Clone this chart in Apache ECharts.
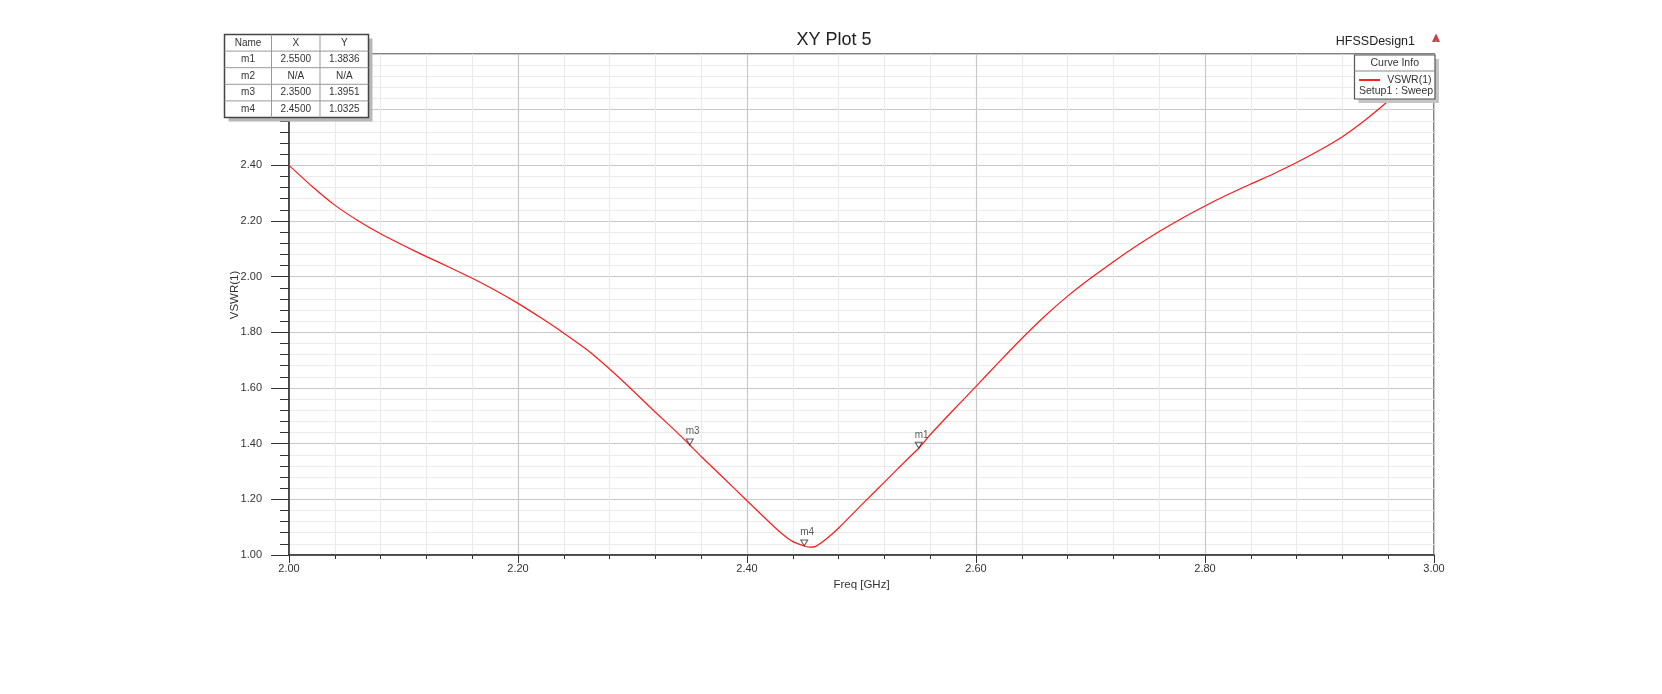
<!DOCTYPE html>
<html><head><meta charset="utf-8">
<script src="https://cdn.jsdelivr.net/npm/echarts@6/dist/echarts.min.js"></script>
<style>html,body{margin:0;padding:0;background:#fff}#c{width:1662px;height:694px}</style>
</head><body><div id="c"></div>
<script>
// ---- data ----
const freqGHz = [2.00,2.02,2.04,2.06,2.08,2.10,2.12,2.14,2.16,2.18,2.20,2.22,2.24,2.26,2.28,2.30,2.32,2.34,2.35,2.36,2.38,2.40,2.42,2.43,2.44,2.45,2.455,2.46,2.47,2.48,2.50,2.52,2.54,2.55,2.56,2.58,2.60,2.62,2.64,2.66,2.68,2.70,2.72,2.74,2.76,2.78,2.80,2.82,2.84,2.86,2.88,2.90,2.92,2.94,2.96,2.98,3.00];
const vswr = [2.400,2.325,2.257,2.202,2.154,2.112,2.072,2.034,1.994,1.951,1.904,1.852,1.797,1.738,1.668,1.592,1.513,1.436,1.3951,1.354,1.275,1.195,1.116,1.078,1.048,1.0325,1.028,1.031,1.060,1.097,1.180,1.262,1.344,1.3836,1.432,1.520,1.606,1.693,1.778,1.858,1.930,1.994,2.054,2.110,2.162,2.210,2.254,2.295,2.333,2.370,2.410,2.454,2.503,2.563,2.631,2.705,2.780];
const markerNames = ['m1','m2','m3','m4'];
const markerX = [2.55, null, 2.35, 2.45];
const markerY = [1.3836, null, 1.3951, 1.0325];
const markerXText = ['2.5500','N/A','2.3500','2.4500'];
const markerYText = ['1.3836','N/A','1.3951','1.0325'];
const tableHeader = ['Name','X','Y'];
const titleText = 'XY Plot 5';
const designText = 'HFSSDesign1';
const xName = 'Freq [GHz]';
const yName = 'VSWR(1)';
const curveName = 'VSWR(1)';
const curveSetup = 'Setup1 : Sweep';

// ---- helpers ----
const FF = '"Liberation Sans", Arial, sans-serif';
function txt(x,y,text,size,align,color,extra){
  return Object.assign({type:'text', x:x, y:y, z:101, style:{text:text, font:size+'px '+FF, fill:color||'#333', align:align||'center', verticalAlign:'middle'}}, extra||{});
}
function rect(x,y,w,h,fill,stroke,lw,z){
  return {type:'rect', z:z||100, shape:{x:x,y:y,width:w,height:h}, style:{fill:fill, stroke:stroke||null, lineWidth:lw||0}};
}
function ln(x1,y1,x2,y2,stroke,lw){
  return {type:'line', z:101, shape:{x1:x1,y1:y1,x2:x2,y2:y2}, style:{stroke:stroke, lineWidth:lw||1}};
}

const g = [];
g.push(txt(834, 40, titleText, 18, 'center', '#222'));
g.push(txt(1415, 41.5, designText, 12.5, 'right', '#222'));
g.push({type:'polygon', z:101, shape:{points:[[1432,42],[1436,33.5],[1440,42]]}, style:{fill:'#d0393b'}});
g.push({type:'polygon', z:102, shape:{points:[[1434.5,42],[1436,38.5],[1437.5,42]]}, style:{fill:'#888'}});
g.push(txt(235, 295, yName, 11.5, 'center', '#333', {rotation: Math.PI/2}));

// marker table
(function(){
  const x0 = 224.5, y0 = 34.5, cw = [47, 48.5, 48.5], rh = 16.6;
  const W = cw[0]+cw[1]+cw[2], H = rh*(markerNames.length+1);
  g.push(rect(x0+4, y0+4, W, H, '#b8b8b8', null, 0, 99));
  g.push(rect(x0, y0, W, H, '#fff', '#444', 1.5, 100));
  let cx = x0;
  const centers = [];
  for (let i=0;i<3;i++){ centers.push(cx+cw[i]/2); cx += cw[i]; if(i<2) g.push(ln(cx, y0, cx, y0+H, '#999', 1)); }
  for (let r=1;r<=markerNames.length;r++) g.push(ln(x0, y0+rh*r, x0+W, y0+rh*r, '#999', 1));
  tableHeader.forEach((t,i)=>g.push(txt(centers[i], y0+rh/2, t, 10, 'center', '#333')));
  markerNames.forEach((n,r)=>{
    const yc = y0 + rh*(r+1) + rh/2;
    g.push(txt(centers[0], yc, n, 10, 'center', '#333'));
    g.push(txt(centers[1], yc, markerXText[r], 10, 'center', '#333'));
    g.push(txt(centers[2], yc, markerYText[r], 10, 'center', '#333'));
  });
})();

// curve info legend
(function(){
  const x0 = 1354.5, y0 = 55, W = 80.5, H = 44;
  g.push(rect(x0+4, y0+4, W, H, '#c4c4c4', null, 0, 99));
  g.push(rect(x0, y0, W, H, '#fff', '#555', 1.2, 100));
  g.push(ln(x0, 71, x0+W, 71, '#888', 1));
  g.push(txt(x0+W/2, 63.3, 'Curve Info', 10.5, 'center', '#333'));
  g.push(ln(1359, 80, 1380, 80, '#ff2020', 2));
  g.push(txt(1431.5, 80, curveName, 10.5, 'right', '#333'));
  g.push(txt(1359, 91.5, curveSetup, 10.5, 'left', '#333'));
})();

const curveData = freqGHz.map((f,i)=>[f, vswr[i]]);
const markerData = [];
markerNames.forEach((n,i)=>{ if(markerX[i]!==null) markerData.push({name:n, value:[markerX[i], markerY[i]]}); });

const chart = echarts.init(document.getElementById('c'), null, {renderer:'canvas'});
chart.setOption({
  animation: false,
  backgroundColor: '#fff',
  textStyle: {fontFamily: FF},
  grid: {left: 289, top: 54, width: 1145, height: 501, show: true, borderColor: '#808080', borderWidth: 2, backgroundColor: 'transparent'},
  xAxis: {
    type: 'value', min: 2, max: 3, interval: 0.2,
    name: xName, nameLocation: 'middle', nameGap: 21,
    nameTextStyle: {fontSize: 11.5, color: '#333', fontFamily: FF},
    axisLine: {show: true, onZero: false, lineStyle: {color: '#333', width: 1.5}},
    axisTick: {show: true, inside: false, length: 8, lineStyle: {color: '#333', width: 1}},
    minorTick: {show: true, splitNumber: 5, length: 4, lineStyle: {color: '#333', width: 1}},
    axisLabel: {margin: 8, fontSize: 11, color: '#333', fontFamily: FF, formatter: v => v.toFixed(2)},
    splitLine: {show: true, lineStyle: {color: '#c8c8c8', width: 1.2}},
    minorSplitLine: {show: true, lineStyle: {color: '#ebebeb', width: 1.2}}
  },
  yAxis: {
    type: 'value', min: 1, max: 2.8, interval: 0.2,
    axisLine: {show: true, onZero: false, lineStyle: {color: '#333', width: 1.5}},
    axisTick: {show: true, inside: false, length: 18, lineStyle: {color: '#333', width: 1}},
    minorTick: {show: true, splitNumber: 5, length: 9, lineStyle: {color: '#333', width: 1}},
    axisLabel: {margin: 27, fontSize: 11, color: '#333', fontFamily: FF, formatter: v => v.toFixed(2)},
    splitLine: {show: true, lineStyle: {color: '#c8c8c8', width: 1.2}},
    minorSplitLine: {show: true, lineStyle: {color: '#ebebeb', width: 1.2}}
  },
  series: [
    {type: 'line', name: curveName, data: curveData, showSymbol: false, smooth: 0.2,
     lineStyle: {color: '#ff1a1a', width: 1.2}, z: 3},
    {type: 'scatter', data: markerData, symbol: 'path://M0,0L10,0L5,8.66Z', symbolSize: [7,6], symbolOffset: [0,-3],
     itemStyle: {color: 'rgba(0,0,0,0)', borderColor: '#333', borderWidth: 1}, z: 4,
     label: {show: true, formatter: '{b}', position: 'top', distance: 2, align: 'left', offset: [-4,0], fontSize: 10, color: '#333', fontFamily: FF}}
  ],
  graphic: g
});
</script></body></html>
